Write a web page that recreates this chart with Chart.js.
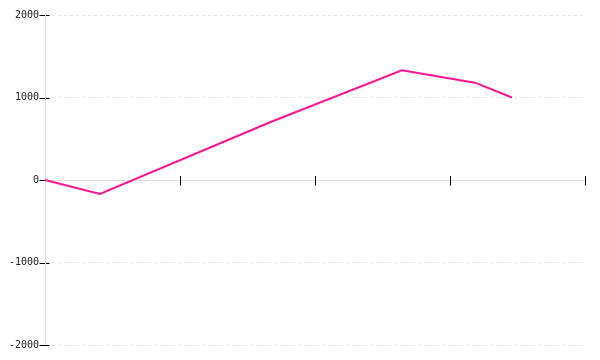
<!DOCTYPE html>
<html>
<head>
<meta charset="utf-8">
<script src="https://cdn.jsdelivr.net/npm/chart.js@4"></script>
<style>
  html, body { margin: 0; padding: 0; background: #fff; }
  #wrap { width: 600px; height: 360px; }
</style>
</head>
<body>
<div id="wrap"><canvas id="c" width="600" height="360"></canvas></div>
<script>
// Data
const xValues = [0, 0.407, 1.667, 2.644, 3.185, 3.459];
const yValues = [0, -170, 700, 1330, 1180, 1000];
const yTickValues = [-2000, -1000, 0, 1000, 2000];
const xTickValues = [0, 1, 2, 3, 4];

const points = xValues.map((x, i) => ({ x: x, y: yValues[i] }));

const crossTicks = {
  id: 'crossTicks',
  beforeDatasetsDraw(chart) {
    const ctx = chart.ctx;
    const xs = chart.scales.x, ys = chart.scales.y;
    const y0 = Math.round(ys.getPixelForValue(0)) + 0.5;
    const x0 = Math.round(ys.left + ys.width) + 0.5;
    ctx.save();
    ctx.strokeStyle = '#000';
    ctx.lineWidth = 1;
    ctx.beginPath();
    xTickValues.forEach(v => {
      const px = Math.round(xs.getPixelForValue(v)) + 0.5;
      ctx.moveTo(px, y0 - 4.5);
      ctx.lineTo(px, y0 + 5);
    });
    yTickValues.forEach(v => {
      const py = Math.round(ys.getPixelForValue(v)) + 0.5;
      ctx.moveTo(x0 - 6, py);
      ctx.lineTo(x0 + 4, py);
    });
    ctx.stroke();
    // redraw the grey y axis line across the tick marks
    ctx.strokeStyle = '#dddddd';
    ctx.beginPath();
    ctx.moveTo(x0, ys.top);
    ctx.lineTo(x0, ys.bottom);
    ctx.stroke();
    ctx.restore();
  }
};

new Chart(document.getElementById('c'), {
  type: 'line',
  data: {
    datasets: [{
      data: points,
      borderColor: '#ff1493',
      borderWidth: 2,
      pointRadius: 0,
      tension: 0,
      fill: false
    }]
  },
  options: {
    responsive: false,
    animation: false,
    layout: { padding: { top: 15, bottom: 15, right: 15, left: 0 } },
    plugins: { legend: { display: false }, tooltip: { enabled: false } },
    scales: {
      x: {
        type: 'linear',
        position: { y: 0 },
        min: 0,
        max: 4,
        ticks: { display: false, stepSize: 1 },
        grid: { display: false, drawTicks: false },
        border: { display: true, color: '#dddddd', width: 1 }
      },
      y: {
        type: 'linear',
        min: -2000,
        max: 2000,
        afterFit: (s) => { s.width = 45; },
        afterBuildTicks: (s) => { s.ticks = yTickValues.map(v => ({ value: v })); },
        ticks: {
          padding: 6,
          color: '#222',
          font: { family: 'DejaVu Sans Mono', size: 10 },
          callback: (v) => String(v)
        },
        grid: {
          drawTicks: false,
          color: '#e2e2e2'
        },
        border: { display: true, color: '#dddddd', width: 1, dash: [3, 3] }
      }
    }
  },
  plugins: [crossTicks]
});
</script>
</body>
</html>
